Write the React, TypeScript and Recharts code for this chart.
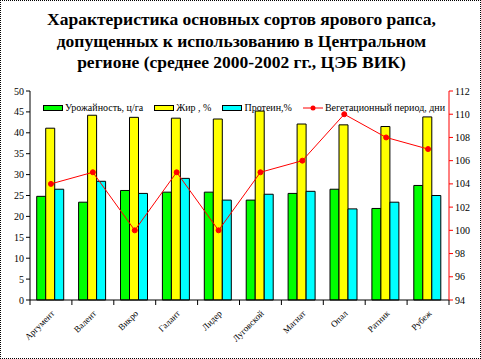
import React from 'react';
import { ComposedChart, Bar, Line, XAxis, YAxis } from 'recharts';

const varieties = ['Аргумент', 'Валент', 'Викро', 'Галант', 'Лидер', 'Луговской', 'Магнат', 'Опал', 'Ратник', 'Рубеж'];
const yieldVals = [24.8, 23.4, 26.2, 25.8, 25.8, 23.9, 25.5, 26.5, 21.9, 27.4];
const fatVals = [41.1, 44.2, 43.7, 43.5, 43.3, 45.2, 42.1, 41.9, 41.5, 43.8];
const proteinVals = [26.5, 28.4, 25.5, 29.1, 23.9, 25.3, 26.0, 21.8, 23.4, 25.0];
const vegPeriod = [104, 105, 100, 105, 100, 105, 106, 110, 108, 107];

const leftTicks = [0, 5, 10, 15, 20, 25, 30, 35, 40, 45, 50];
const rightTicks = [94, 96, 98, 100, 102, 104, 106, 108, 110, 112];

const data = varieties.map((name, i) => ({
    name,
    yield: yieldVals[i],
    fat: fatVals[i],
    protein: proteinVals[i],
    veg: vegPeriod[i],
}));

const FONT = '"Liberation Serif", "Times New Roman", serif';
const HALF_BAND = 419 / varieties.length / 2;

const CategoryTick = (props: any) => {
    const { x, y, payload, index } = props;
    const last = index === varieties.length - 1;
    return (
        <g>
            <line x1={x - HALF_BAND} y1={y - 8} x2={x - HALF_BAND} y2={y - 3} stroke="#000" />
            {last && <line x1={x + HALF_BAND} y1={y - 8} x2={x + HALF_BAND} y2={y - 3} stroke="#000" />}
            <text
                x={x + 4}
                y={y + 6}
                textAnchor="end"
                fontSize={9}
                fontFamily={FONT}
                fill="#000"
                transform={`rotate(-45, ${x + 4}, ${y + 6})`}
            >
                {payload.value}
            </text>
        </g>
    );
};

const legendItems = [
    { label: 'Урожайность, ц/га', color: '#00ff00', type: 'rect' },
    { label: 'Жир , %', color: '#ffff00', type: 'rect' },
    { label: 'Протеин,%', color: '#00ffff', type: 'rect' },
    { label: 'Вегетационный период, дни', color: '#ff0000', type: 'line' },
];

const ChartLegend = () => (
    <div
        style={{
            position: 'absolute',
            left: 42,
            top: 101,
            display: 'flex',
            alignItems: 'center',
            fontFamily: FONT,
            fontSize: 10,
            whiteSpace: 'nowrap',
        }}
    >
        {legendItems.map((it) => (
            <div key={it.label} style={{ display: 'flex', alignItems: 'center', marginRight: 11 }}>
                {it.type === 'rect' ? (
                    <span style={{ display: 'inline-block', width: 18, height: 4, background: it.color, border: '1px solid #000', marginRight: 2 }} />
                ) : (
                    <svg width={20} height={6} style={{ marginRight: 2 }}>
                        <line x1={0} y1={3} x2={20} y2={3} stroke={it.color} />
                        <circle cx={10} cy={3} r={2.5} fill={it.color} />
                    </svg>
                )}
                <span>{it.label}</span>
            </div>
        ))}
    </div>
);

export default function App() {
    return (
        <div
            style={{
                position: 'absolute',
                left: 0,
                top: 0,
                width: 481,
                height: 359,
                boxSizing: 'border-box',
                border: '1px dotted #000',
                background: '#fff',
                fontFamily: FONT,
            }}
        >
            <div
                style={{
                    position: 'absolute',
                    left: 0,
                    top: 8,
                    width: 481,
                    textAlign: 'center',
                    fontWeight: 'bold',
                    fontSize: 17.5,
                    lineHeight: '21.5px',
                }}
            >
                Характеристика основных сортов ярового рапса,
                <br />
                допущенных к использованию в Центральном
                <br />
                регионе (среднее 2000-2002 гг., ЦЭБ ВИК)
            </div>
            <div style={{ position: 'absolute', left: -1, top: -1 }}>
                <ComposedChart
                    width={481}
                    height={359}
                    data={data}
                    margin={{ top: 91, right: 0, bottom: 0, left: 0 }}
                    barCategoryGap="16%"
                    barGap={0}
                >
                    <XAxis
                        dataKey="name"
                        height={59}
                        interval={0}
                        tickLine={false}
                        stroke="#000"
                        tick={<CategoryTick />}
                    />
                    <YAxis
                        yAxisId="left"
                        width={30}
                        domain={[0, 50]}
                        ticks={leftTicks}
                        interval={0}
                        stroke="#000"
                        tickSize={4}
                        tick={{ fontSize: 10, fill: '#000', fontFamily: FONT }}
                    />
                    <YAxis
                        yAxisId="right"
                        orientation="right"
                        width={32}
                        domain={[94, 112]}
                        ticks={rightTicks}
                        interval={0}
                        stroke="#ff0000"
                        tickSize={4}
                        tick={{ fontSize: 10, fill: '#000', fontFamily: FONT }}
                    />
                    <Bar yAxisId="left" dataKey="yield" fill="#00ff00" stroke="#000" strokeWidth={1} isAnimationActive={false} />
                    <Bar yAxisId="left" dataKey="fat" fill="#ffff00" stroke="#000" strokeWidth={1} isAnimationActive={false} />
                    <Bar yAxisId="left" dataKey="protein" fill="#00ffff" stroke="#000" strokeWidth={1} isAnimationActive={false} />
                    <Line
                        yAxisId="right"
                        type="linear"
                        dataKey="veg"
                        stroke="#ff0000"
                        strokeWidth={1}
                        dot={{ r: 2.5, fill: '#ff0000', stroke: '#ff0000' }}
                        isAnimationActive={false}
                    />
                </ComposedChart>
            </div>
            <ChartLegend />
        </div>
    );
}
